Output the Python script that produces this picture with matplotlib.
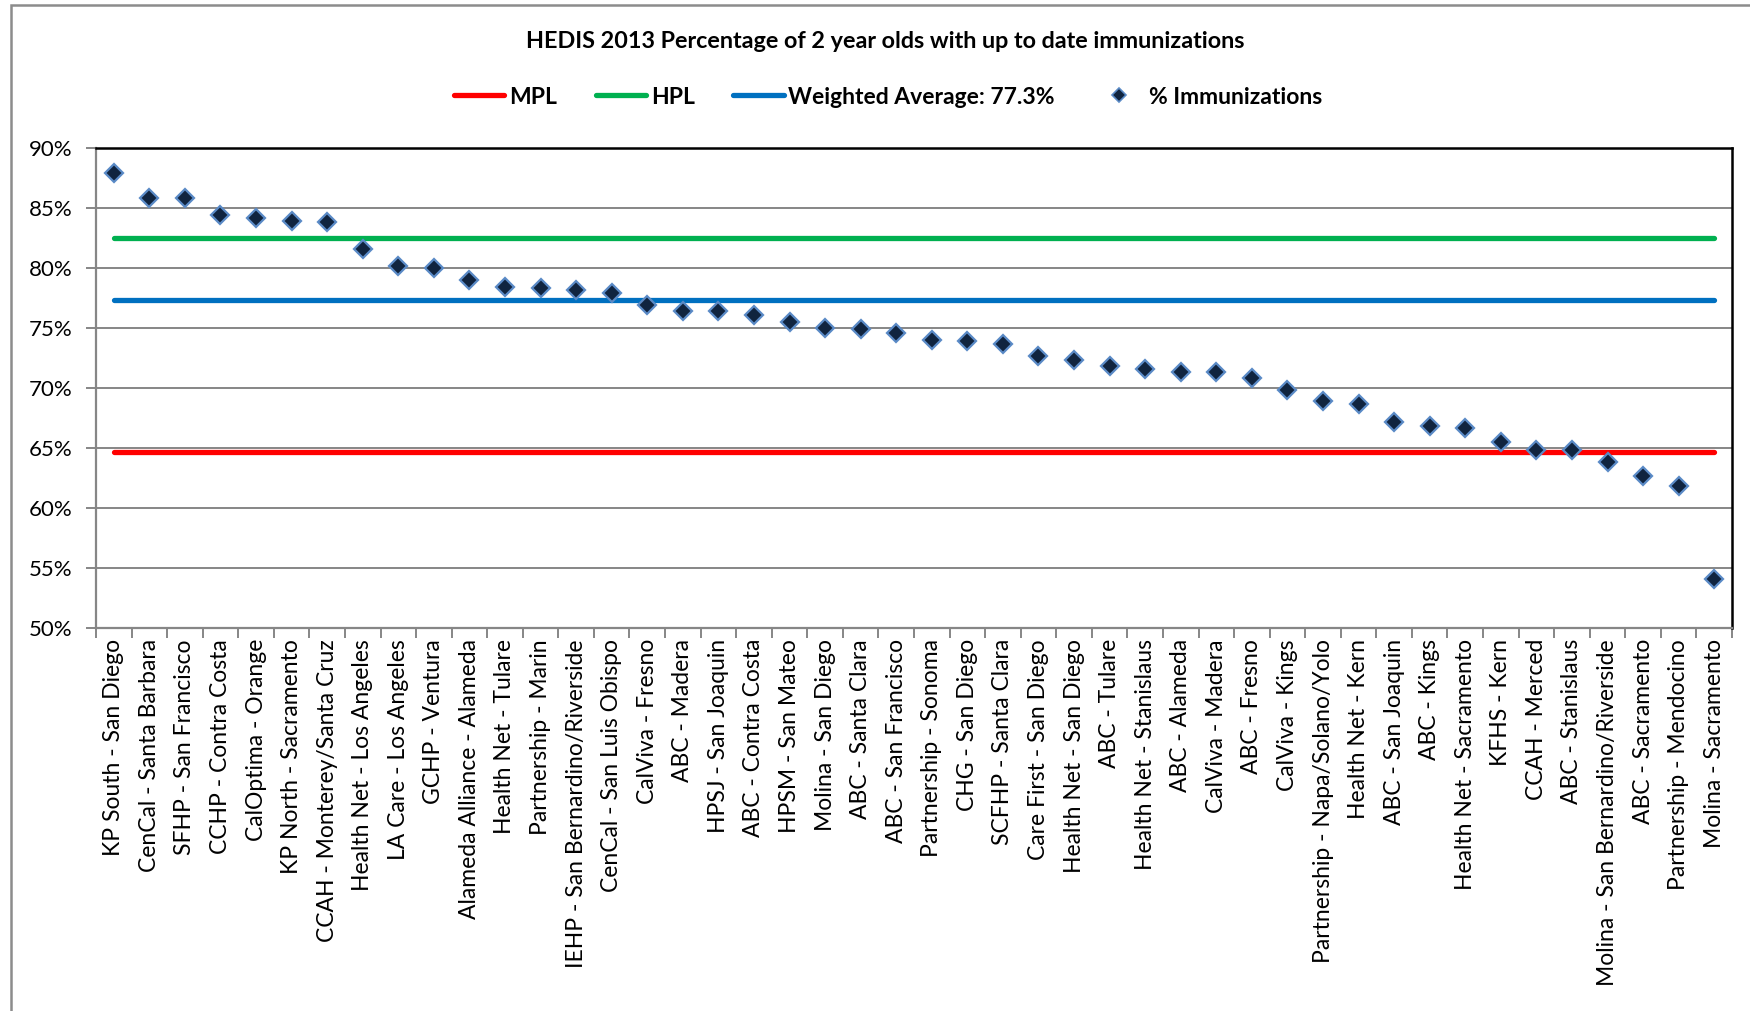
import matplotlib
matplotlib.use("Agg")
import matplotlib.pyplot as plt
from matplotlib.lines import Line2D
from matplotlib.patches import Rectangle
from matplotlib.ticker import FixedLocator, PercentFormatter

plt.rcParams['font.family'] = ['Lato', 'DejaVu Sans']

plans = [
    "KP South - San Diego", "CenCal - Santa Barbara", "SFHP - San Francisco",
    "CCHP - Contra Costa", "CalOptima - Orange", "KP North - Sacramento",
    "CCAH - Monterey/Santa Cruz", "Health Net - Los Angeles", "LA Care - Los Angeles",
    "GCHP - Ventura", "Alameda Alliance - Alameda", "Health Net - Tulare",
    "Partnership - Marin", "IEHP - San Bernardino/Riverside", "CenCal - San Luis Obispo",
    "CalViva - Fresno", "ABC - Madera", "HPSJ - San Joaquin", "ABC - Contra Costa",
    "HPSM - San Mateo", "Molina - San Diego", "ABC - Santa Clara", "ABC - San Francisco",
    "Partnership - Sonoma", "CHG - San Diego", "SCFHP - Santa Clara",
    "Care First - San Diego", "Health Net - San Diego", "ABC - Tulare",
    "Health Net - Stanislaus", "ABC - Alameda", "CalViva - Madera", "ABC - Fresno",
    "CalViva - Kings", "Partnership - Napa/Solano/Yolo", "Health Net - Kern",
    "ABC - San Joaquin", "ABC - Kings", "Health Net - Sacramento", "KFHS - Kern",
    "CCAH - Merced", "ABC - Stanislaus", "Molina - San Bernardino/Riverside",
    "ABC - Sacramento", "Partnership - Mendocino", "Molina - Sacramento",
]
immunizations = [
    87.9, 85.8, 85.8, 84.4, 84.2, 83.9, 83.8, 81.6, 80.2, 80.0,
    79.0, 78.4, 78.3, 78.2, 77.9, 76.9, 76.4, 76.4, 76.1, 75.5,
    75.0, 74.9, 74.6, 74.0, 73.9, 73.7, 72.7, 72.3, 71.8, 71.6,
    71.3, 71.3, 70.8, 69.8, 68.9, 68.7, 67.2, 66.8, 66.7, 65.5,
    64.8, 64.8, 63.8, 62.7, 61.8, 54.1,
]
mpl_value = 64.7
hpl_value = 82.5
weighted_avg = 77.3

red = "#ff0000"
green = "#00b050"
blue = "#0070c0"
gray = "#868686"

fig = plt.figure(figsize=(17.5, 10.11), dpi=100)
fig.patches.append(Rectangle((11 / 1750, -0.1), 1.2, 1.1 - 5 / 1011, transform=fig.transFigure,
                             fill=False, edgecolor="#8c8c8c", linewidth=1.8, zorder=0))

ax = fig.add_axes([96 / 1750, 1 - 628 / 1011, (1732 - 96) / 1750, (628 - 148) / 1011])
n = len(plans)
x = list(range(n))

ax.plot([0, n - 1], [mpl_value, mpl_value], color=red, lw=3.8, solid_capstyle="round", zorder=2)
ax.plot([0, n - 1], [hpl_value, hpl_value], color=green, lw=3.8, solid_capstyle="round", zorder=2)
ax.plot([0, n - 1], [weighted_avg, weighted_avg], color=blue, lw=3.8, solid_capstyle="round", zorder=2)
ax.plot(x, immunizations, linestyle="none", marker="D", markersize=9,
        markerfacecolor="#10243f", markeredgecolor="#5a8ac6", markeredgewidth=1.6, zorder=3)

ax.set_xlim(-0.5, n - 0.5)
ax.set_ylim(50, 90)
ax.set_yticks(range(50, 91, 5))
ax.yaxis.set_major_formatter(PercentFormatter(decimals=0))
ax.grid(axis="y", color=gray, lw=1.4)
ax.set_axisbelow(True)

ax.set_xticks(x)
ax.set_xticklabels(plans, rotation=90, fontsize=16.5)
ax.xaxis.set_minor_locator(FixedLocator([i - 0.5 for i in range(n + 1)]))
ax.tick_params(axis="x", which="major", length=0, pad=8)
ax.tick_params(axis="x", which="minor", length=7, color=gray, width=1.4)
ax.tick_params(axis="y", length=7, color=gray, width=1.4, labelsize=16, pad=10)

for side in ["top", "right"]:
    ax.spines[side].set_color("black")
    ax.spines[side].set_linewidth(1.8)
for side in ["left", "bottom"]:
    ax.spines[side].set_color(gray)
    ax.spines[side].set_linewidth(1.6)

fig.text(885 / 1750, 1 - 41 / 1011, "HEDIS 2013 Percentage of 2 year olds with up to date immunizations",
         ha="center", va="center", fontsize=16.8, fontweight="bold")

handles = [
    Line2D([], [], color=red, lw=3.8, solid_capstyle="round"),
    Line2D([], [], color=green, lw=3.8, solid_capstyle="round"),
    Line2D([], [], color=blue, lw=3.8, solid_capstyle="round"),
    Line2D([], [], linestyle="none", marker="D", markersize=7,
           markerfacecolor="#10243f", markeredgecolor="#5a8ac6", markeredgewidth=1.2),
]
labels = ["MPL", "HPL", "Weighted Average: 77.3%", "% Immunizations"]
fig.legend(handles, labels, loc="center", bbox_to_anchor=(888 / 1750, 1 - 97 / 1011), ncol=4,
           frameon=False, handlelength=2.2, handletextpad=0.2, columnspacing=1.7,
           prop={"size": 16.5, "weight": "bold"})

fig.savefig("out.png", dpi=100)
